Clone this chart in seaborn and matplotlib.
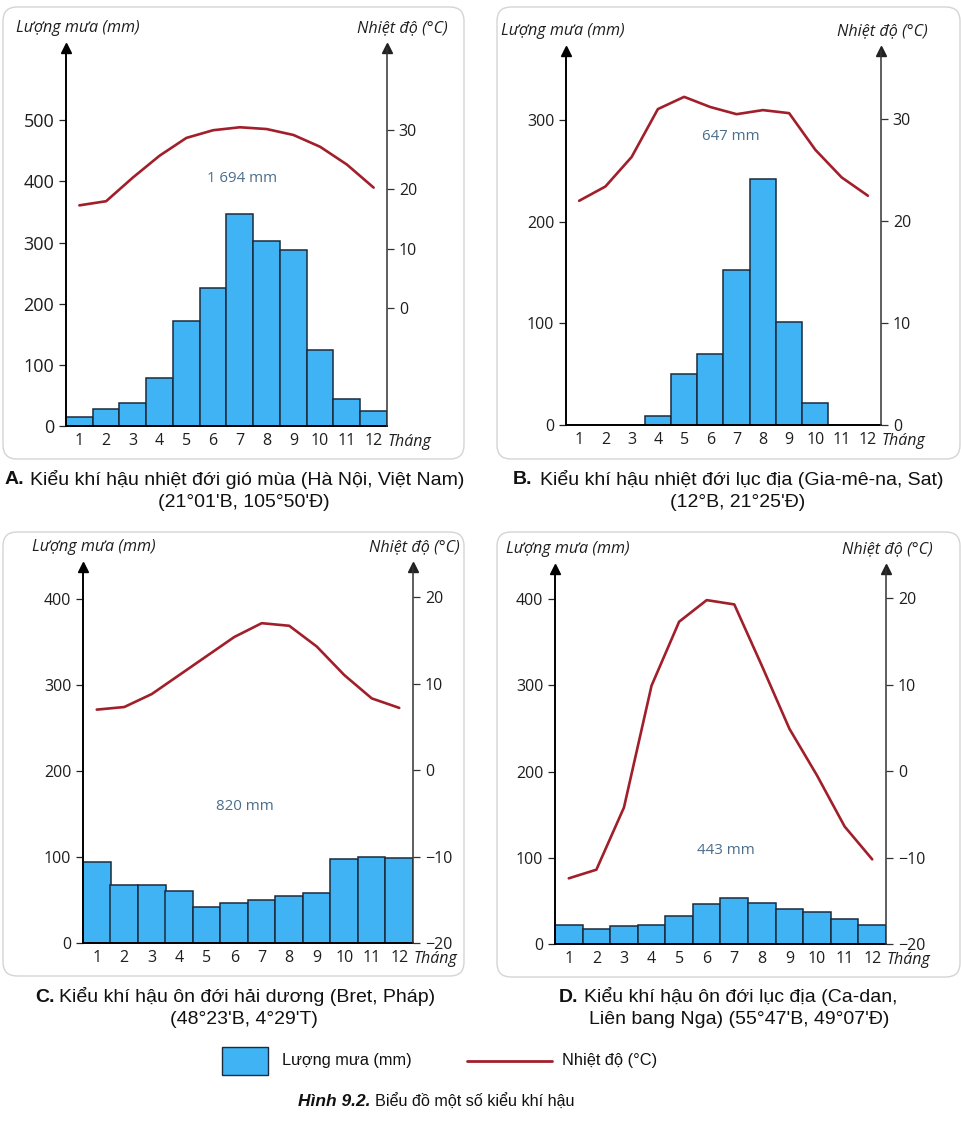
import numpy as np
import matplotlib
matplotlib.use("Agg")
import matplotlib.pyplot as plt
import seaborn as sns
from matplotlib.patches import FancyBboxPatch, Rectangle
from matplotlib.lines import Line2D
from matplotlib.transforms import IdentityTransform

# ---- data ----
months = [1, 2, 3, 4, 5, 6, 7, 8, 9, 10, 11, 12]

rain_a = [14, 28, 37, 79, 171, 225, 346, 303, 288, 124, 44, 25]
temp_a = [17.3, 18.0, 22.0, 25.7, 28.7, 30.0, 30.5, 30.2, 29.2, 27.2, 24.2, 20.3]

rain_b = [0, 0, 0, 9, 50, 70, 153, 242, 101, 22, 0, 0]
temp_b = [22.0, 23.4, 26.3, 31.0, 32.2, 31.2, 30.5, 30.9, 30.6, 27.0, 24.3, 22.5]

rain_c = [94, 67, 67, 61, 42, 47, 50, 55, 58, 98, 100, 99]
temp_c = [7.0, 7.3, 8.8, 11.0, 13.2, 15.4, 17.0, 16.7, 14.3, 11.0, 8.3, 7.2]

rain_d = [22, 17, 21, 22, 33, 46, 53, 47, 41, 37, 29, 22]
temp_d = [-12.4, -11.4, -4.2, 9.9, 17.3, 19.8, 19.3, 12.2, 4.9, -0.5, -6.4, -10.2]

totals = ["1 694 mm", "647 mm", "820 mm", "443 mm"]

rain_ticks_a = [0, 100, 200, 300, 400, 500]
temp_ticks_a = [0, 10, 20, 30]
rain_ticks_b = [0, 100, 200, 300]
temp_ticks_b = [0, 10, 20, 30]
rain_ticks_cd = [0, 100, 200, 300, 400]
temp_ticks_cd = [-20, -10, 0, 10, 20]

captions = [
    ("A.", "Kiểu khí hậu nhiệt đới gió mùa (Hà Nội, Việt Nam)", "(21°01'B, 105°50'Đ)"),
    ("B.", "Kiểu khí hậu nhiệt đới lục địa (Gia-mê-na, Sat)", "(12°B, 21°25'Đ)"),
    ("C.", "Kiểu khí hậu ôn đới hải dương (Bret, Pháp)", "(48°23'B, 4°29'T)"),
    ("D.", "Kiểu khí hậu ôn đới lục địa (Ca-dan,", "Liên bang Nga) (55°47'B, 49°07'Đ)"),
]

BAR = "#3fb3f3"
EDGE = "#1b2a3c"
LINE = "#a01f2a"
TOTAL_C = "#4b6d8c"
TXT = "#1e1e1e"

sns.set_style("white")
plt.rcParams["font.family"] = ["Open Sans", "DejaVu Sans"]

W, H = 962, 1122
fig = plt.figure(figsize=(W / 100, H / 100), dpi=100)


def fx(px):
    return px / W


def fy(py):
    return 1 - py / H


# frames around each panel
for (x0, y0, x1, y1) in [(3, 7, 464, 459), (497, 7, 960, 459),
                         (3, 532, 464, 976), (497, 532, 960, 977)]:
    fig.patches.append(FancyBboxPatch((x0, H - y1), x1 - x0, y1 - y0,
                                      boxstyle="round,pad=0,rounding_size=14",
                                      fc="none", ec="#d4d4d4", lw=1.0,
                                      transform=IdentityTransform()))


def draw_panel(box, rain, temp, rticks, tticks, rlim, tlim, total, total_xy,
               left_dx, right_dx, left_fs=11.5):
    x0, y0, x1, y1 = box
    ax = fig.add_axes([fx(x0), fy(y1), (x1 - x0) / W, (y1 - y0) / H])
    sns.barplot(x=months, y=rain, native_scale=True, width=1, color=BAR,
                saturation=1, edgecolor=EDGE, linewidth=1.1, ax=ax)
    ax.set_xlim(0.5, 12.5)
    ax.set_ylim(*rlim)
    ax.set_yticks(rticks)
    ax.set_xticks(months)
    ax.set_xticklabels([str(m) for m in months])
    ax.set_xlabel("")
    ax.set_ylabel("")
    ax.tick_params(axis="y", direction="out", length=5, width=0.9, pad=3.5,
                   labelsize=left_fs, color="#222", labelcolor=TXT)
    ax.tick_params(axis="x", length=0, pad=5, labelsize=11.5, labelcolor=TXT)
    for s in ["top", "right"]:
        ax.spines[s].set_visible(False)
    for s in ["left", "bottom"]:
        ax.spines[s].set_color("black")
        ax.spines[s].set_linewidth(1.4)

    ax2 = ax.twinx()
    sns.lineplot(x=months, y=temp, color=LINE, lw=1.9, ax=ax2)
    ax2.set_ylim(*tlim)
    ax2.set_yticks(tticks)
    ax2.set_ylabel("")
    ax2.tick_params(axis="y", direction="out", length=5, width=0.9, pad=3.5,
                    labelsize=11.5, color="#333", labelcolor=TXT)
    for s in ["top", "left", "bottom"]:
        ax2.spines[s].set_visible(False)
    ax2.spines["right"].set_color("#333")
    ax2.spines["right"].set_linewidth(1.1)

    # arrow heads on the two vertical axes
    ax.plot([0], [1], marker="^", ms=7.5, color="black", transform=ax.transAxes,
            clip_on=False)
    ax2.plot([1], [1], marker="^", ms=7.5, color="#222", transform=ax2.transAxes,
             clip_on=False)

    fig.text(fx(x0 + left_dx), fy(y0 - 20), "Lượng mưa (mm)", style="italic",
             fontsize=11.6, ha="center", va="center", color=TXT)
    fig.text(fx(x1 + right_dx), fy(y0 - 20), "Nhiệt độ (°C)", style="italic",
             fontsize=11.6, ha="right", va="center", color=TXT)
    fig.text(fx(x1 + 1), fy(y1 + 16), "Tháng", style="italic",
             fontsize=11.5, ha="left", va="center", color=TXT)
    fig.text(fx(total_xy[0]), fy(total_xy[1]), total, fontsize=10.8,
             ha="center", va="center", color=TOTAL_C)


draw_panel((66, 48, 387, 426), rain_a, temp_a, rain_ticks_a, temp_ticks_a,
           (0, 618), (-20, 43.9), totals[0], (242, 179), 12, 61, left_fs=13)
draw_panel((566, 51, 881, 425), rain_b, temp_b, rain_ticks_b, temp_ticks_b,
           (0, 368), (0, 36.7), totals[1], (731, 137), -3, 47)
draw_panel((83, 567, 413, 943), rain_c, temp_c, rain_ticks_cd, temp_ticks_cd,
           (0, 437), (-20, 23.5), totals[2], (245, 807), 11, 47)
draw_panel((555, 569, 886, 944), rain_d, temp_d, rain_ticks_cd, temp_ticks_cd,
           (0, 435), (-20, 23.4), totals[3], (726, 850), 13, 47)

# captions under the panels
cap_pos = [(5, 30, 480, 244, 503), (513, 540, 480, 738, 503),
           (35, 59, 997, 244, 1020), (559, 584, 997, 739, 1020)]
CAP_FONT = ["Liberation Sans", "DejaVu Sans"]
for (lab, line1, line2), (xl, xr, yl, xc2, y2) in zip(captions, cap_pos):
    fig.text(fx(xl), fy(yl), lab, fontsize=14, fontweight="bold",
             family=CAP_FONT, ha="left", va="center", color="#111")
    fig.text(fx(xr), fy(yl), line1, fontsize=14, family=CAP_FONT,
             ha="left", va="center", color="#111")
    fig.text(fx(xc2), fy(y2), line2, fontsize=14, family=CAP_FONT,
             ha="center", va="center", color="#111")

# legend
fig.patches.append(Rectangle((222, H - 1075), 46, 28, fc=BAR, ec=EDGE, lw=1.0,
                             transform=IdentityTransform()))
fig.text(fx(282), fy(1061), "Lượng mưa (mm)", fontsize=11.8, family=CAP_FONT,
         ha="left", va="center", color="#111")
fig.lines.append(Line2D([fx(467), fx(552)], [fy(1061), fy(1061)], color=LINE,
                        lw=2.0, transform=fig.transFigure))
fig.text(fx(562), fy(1061), "Nhiệt độ (°C)", fontsize=11.8, family=CAP_FONT,
         ha="left", va="center", color="#111")

fig.text(fx(298), fy(1102), "Hình 9.2.", fontsize=12.5, fontweight="bold",
         style="italic", family=CAP_FONT, ha="left", va="center", color="#111")
fig.text(fx(375), fy(1102), "Biểu đồ một số kiểu khí hậu", fontsize=11.6,
         family=CAP_FONT, ha="left", va="center", color="#111")

fig.savefig("out.png", dpi=100, facecolor="white")
